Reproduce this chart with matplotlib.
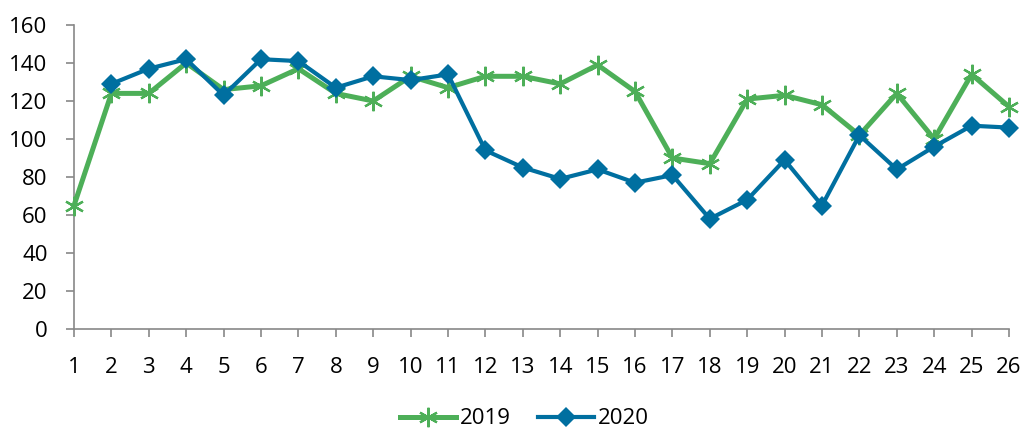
import matplotlib
matplotlib.use("Agg")
import matplotlib.pyplot as plt

weeks = list(range(1, 27))
y2019 = [65, 124, 124, 140, 126, 128, 137, 124, 120, 133, 127, 133, 133, 129, 139,
         125, 90, 87, 121, 123, 118, 102, 124, 100, 134, 117]
weeks2020 = list(range(2, 27))
y2020 = [129, 137, 142, 123, 142, 141, 127, 133, 131, 134, 94, 85, 79, 84, 77,
         81, 58, 68, 89, 65, 102, 84, 96, 107, 106]
yticks = [0, 20, 40, 60, 80, 100, 120, 140, 160]

plt.rcParams['font.family'] = ['Open Sans', 'DejaVu Sans']
green = '#4DAF58'
blue = '#006FA0'

fig = plt.figure(figsize=(10.26, 4.28), dpi=100)
ax = fig.add_axes([74 / 1026, 99 / 428, 935 / 1026, 304 / 428])

ax.plot(weeks, y2019, color=green, lw=3.6, marker=(6, 2, 0), ms=14, mew=1.6,
        mec=green, label='2019', clip_on=False, zorder=3)
ax.plot(weeks2020, y2020, color=blue, lw=3.0, marker='D', ms=10, mew=0,
        label='2020', clip_on=False, zorder=4)

ax.set_xlim(1, 26)
ax.set_ylim(0, 160)
ax.set_xticks(weeks)
ax.set_yticks(yticks)
for s in ['top', 'right']:
    ax.spines[s].set_visible(False)
for s in ['left', 'bottom']:
    ax.spines[s].set_color('#888888')
    ax.spines[s].set_linewidth(1.2)
ax.tick_params(axis='both', colors='#888888', labelcolor='black', labelsize=16,
               length=6, width=1.2)
ax.tick_params(axis='y', pad=13)
ax.tick_params(axis='x', pad=14)

ax.legend(loc='center', bbox_to_anchor=(0.482, -0.296), ncol=2, frameon=False,
          fontsize=16, handlelength=2.5, columnspacing=1.2, handletextpad=0.2)

fig.savefig('out.png', dpi=100)
